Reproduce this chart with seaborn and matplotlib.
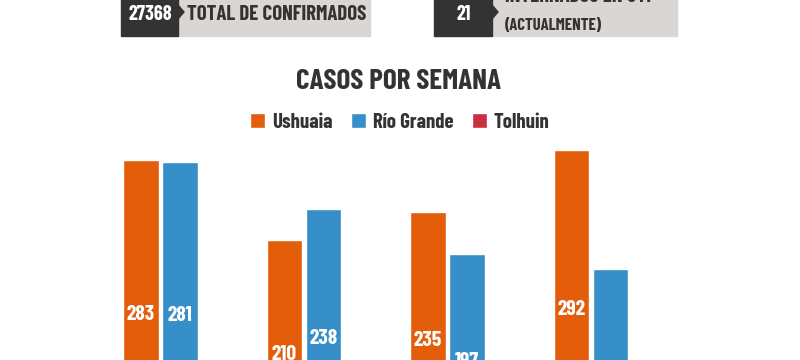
import matplotlib
matplotlib.use("Agg")
import matplotlib.pyplot as plt
from matplotlib import font_manager
from matplotlib.patches import Rectangle, Polygon
import seaborn as sns
import pandas as pd

# datos
semanas = ["Semana 1", "Semana 2", "Semana 3", "Semana 4"]
ciudades = ["Ushuaia", "Río Grande", "Tolhuin"]
ushuaia = [283, 210, 235, 292]
rio_grande = [281, 238, 197, 183]
tolhuin = [12, 9, 14, 10]
total_confirmados = "27368"
internados_uti = "21"

colores = {"Ushuaia": "#E35D0B", "Río Grande": "#368FC9", "Tolhuin": "#C9303F"}
oscuro = "#333333"
gris = "#D9D6D3"

rows = []
for ciudad, vals in zip(ciudades, [ushuaia, rio_grande, tolhuin]):
    for s, v in zip(semanas, vals):
        rows.append({"semana": s, "ciudad": ciudad, "casos": v})
df = pd.DataFrame(rows)

sns.set_style("white")
names = {f.name for f in font_manager.fontManager.ttflist}
fam = "DejaVu Sans"
stretch = "condensed"
for c in ["Barlow Condensed", "Roboto Condensed", "Open Sans Condensed", "Liberation Sans Narrow"]:
    if c in names:
        fam = c
        break
plt.rcParams["font.family"] = [fam, "DejaVu Sans"]
fk = dict(fontweight="bold", fontstretch=stretch)

fig = plt.figure(figsize=(8, 3.6), dpi=100)
W, H = 800, 360

def fx(px):
    return px / W

def fy(py):
    return 1 - py / H

# cajas superiores
def caja(x0, x1, x2, y0, y1):
    fig.patches.append(Rectangle((fx(x1), fy(y1)), fx(x2 - x1), (y1 - y0) / H,
                                 transform=fig.transFigure, color=gris, zorder=1))
    fig.patches.append(Rectangle((fx(x0), fy(y1)), fx(x1 - x0), (y1 - y0) / H,
                                 transform=fig.transFigure, color=oscuro, zorder=2))
    ym = (y0 + y1) / 2
    fig.patches.append(Polygon([(fx(x1), fy(ym - 7)), (fx(x1 + 6), fy(ym)), (fx(x1), fy(ym + 7))],
                               closed=True, transform=fig.transFigure, color=oscuro, zorder=2))

caja(121, 178, 370, -12, 36)
caja(434, 492, 677, -12, 36)

fig.text(fx(150), fy(15), total_confirmados, color="white", fontsize=14.5, ha="center", va="center", **fk)
fig.text(fx(187), fy(15), "TOTAL DE CONFIRMADOS", color=oscuro, fontsize=15, ha="left", va="center", **fk)
fig.text(fx(464), fy(15), internados_uti, color="white", fontsize=14.5, ha="center", va="center", **fk)
fig.text(fx(505), fy(-3), "INTERNADOS EN UTI", color=oscuro, fontsize=15, ha="left", va="center", **fk)
fig.text(fx(505), fy(25.5), "(ACTUALMENTE)", color=oscuro, fontsize=12, ha="left", va="center", **fk)

fig.text(fx(398), fy(81.5), "CASOS POR SEMANA", color=oscuro, fontsize=21, ha="center", va="center", **fk)

# ejes: la base de las barras queda fuera de la imagen
base_px, top_px = 469, 140
px_por_caso = 1.0925
ax = fig.add_axes([0, fy(base_px), 1, (base_px - top_px) / H])
sns.barplot(data=df, x="semana", y="casos", hue="ciudad", palette=colores,
            width=0.815, gap=0.1, saturation=1, ax=ax)
ax.set_xlim(-180 / 143.5, (W - 180) / 143.5)
ax.set_ylim(0, (base_px - top_px) / px_por_caso)
ax.axis("off")

for cont in ax.containers:
    ax.bar_label(cont, label_type="center", color="white", fontsize=15.5, **fk)

sns.move_legend(ax, "center", bbox_to_anchor=(0.5, (base_px - 122) / (base_px - top_px)),
                ncol=3, frameon=False, title=None, fontsize=15, handlelength=0.72,
                handleheight=0.72, handletextpad=0.34, columnspacing=0.87)
for t in ax.get_legend().get_texts():
    t.set_color(oscuro)
    t.set_fontweight("bold")
    t.set_fontstretch(stretch)

fig.savefig("out.png", dpi=100)
